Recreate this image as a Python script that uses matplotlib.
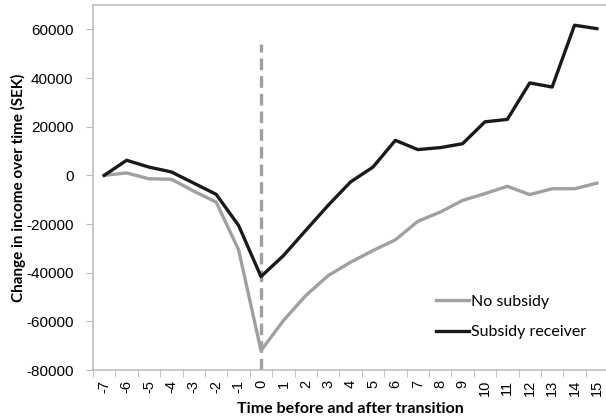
import matplotlib.pyplot as plt
import numpy as np

years = list(range(-7, 16))
no_subsidy = [0, 1000, -1400, -1600, -6500, -11000, -30600, -72000, -59700, -49400,
              -41200, -35700, -30900, -26500, -18900, -15100, -10300, -7500, -4500,
              -7900, -5500, -5500, -3200]
subsidy_receiver = [0, 6200, 3400, 1400, -3200, -7800, -20600, -41600, -33000, -22600,
                    -12300, -2700, 3400, 14400, 10600, 11400, 13000, 22000, 23000,
                    38000, 36300, 61700, 60300]
y_ticks = list(range(-80000, 60001, 20000))
transition_top = 54000

fig = plt.figure(figsize=(6.06, 4.2), dpi=100)
ax = fig.add_axes([0.1535, 0.119, 0.85, 0.869])

ax.plot(years, no_subsidy, color='#a0a0a0', lw=2.4, label='No subsidy', zorder=3)
ax.plot(years, subsidy_receiver, color='#1a1a1a', lw=2.4, label='Subsidy receiver', zorder=4)
ax.plot([0, 0], [-80000, transition_top], color='#a0a0a0', lw=2.4,
        linestyle=(0, (3.5, 1.8)), zorder=2)

ax.set_xlim(-7.5, 15.5)
ax.set_ylim(-80000, 70000)
ax.set_yticks(y_ticks)
ax.set_yticklabels([str(v) for v in y_ticks], fontsize=11, family='Liberation Sans')
ax.set_xticks(years)
ax.set_xticklabels([str(v) for v in years], rotation=90, fontsize=10.5,
                   family='Liberation Sans')
ax.set_xticks(np.arange(-7.5, 15.6, 1), minor=True)
ax.tick_params(axis='x', which='major', length=0, pad=7)
ax.tick_params(axis='x', which='minor', length=5, color='#bbbbbb', direction='out')
ax.tick_params(axis='y', length=5, color='#bbbbbb', pad=9)

for s in ax.spines.values():
    s.set_color('#c0c0c0')
    s.set_linewidth(1.2)

ax.set_ylabel('Change in income over time (SEK)', fontsize=11, fontweight='bold',
              family='Lato')
ax.set_xlabel('Time before and after transition', fontsize=11.5, fontweight='bold',
              family='Lato')
ax.yaxis.set_label_coords(-0.131, 0.5)
ax.xaxis.set_label_coords(0.5, -0.088)

ax.legend(loc='lower right', bbox_to_anchor=(0.985, 0.045), frameon=False,
          prop={'family': 'Lato', 'size': 11.5}, handlelength=2.1,
          handletextpad=0.1, labelspacing=1.0)

fig.savefig('out.png', dpi=100)
